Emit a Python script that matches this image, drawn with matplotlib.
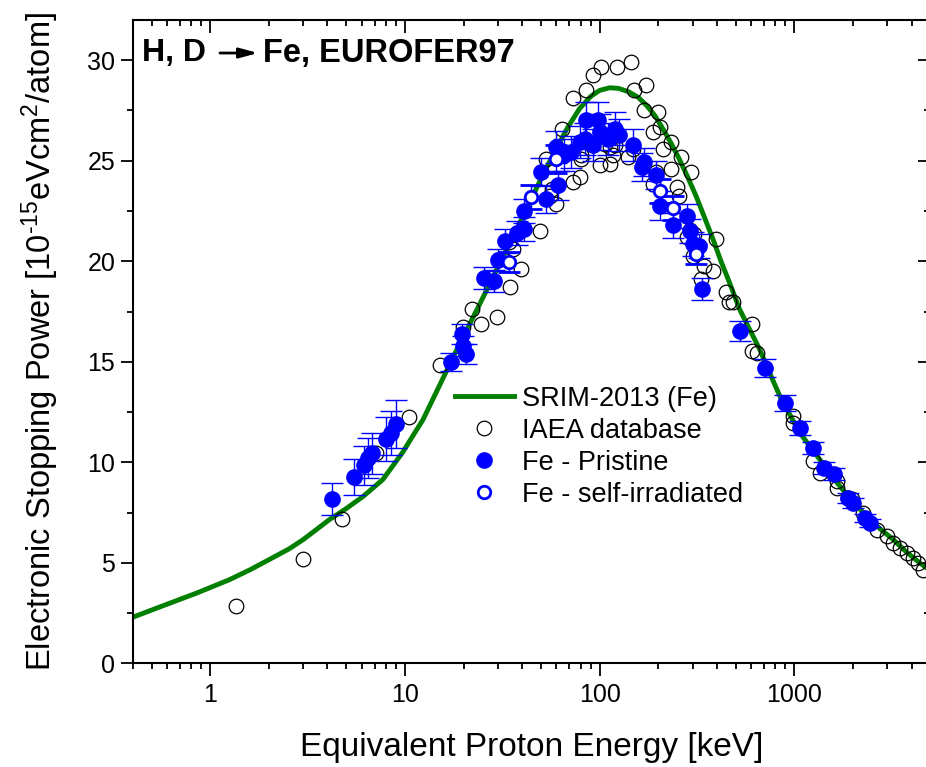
import numpy as np
import matplotlib
matplotlib.use('Agg')
import matplotlib.pyplot as plt
from matplotlib.lines import Line2D

plt.rcParams['font.family'] = ['Liberation Sans', 'DejaVu Sans']
plt.rcParams['mathtext.fontset'] = 'custom'
plt.rcParams['mathtext.rm'] = 'Liberation Sans'
plt.rcParams['mathtext.it'] = 'Liberation Sans:italic'
plt.rcParams['mathtext.bf'] = 'Liberation Sans:bold'

# SRIM-2013 curve
srim_E = [0.4, 0.55, 0.85, 1.25, 1.6, 2.0, 2.55, 3.0, 4.1, 5.0, 6.1, 7.7, 9.7, 12.4, 15.6,
          19.0, 24.2, 30.6, 38.7, 47.2, 54.0, 60.0, 68.0, 79.0, 90.0, 100, 112.6,
          125, 141, 158, 174, 192, 211, 232, 256, 283, 312, 345, 382, 420, 464,
          524, 590, 665, 750, 842, 950, 1067, 1200, 1351, 1520, 1713, 2000, 2350,
          2750, 3222, 3750, 4416, 5000]
srim_S = [2.29, 2.8, 3.49, 4.15, 4.65, 5.15, 5.7, 6.15, 7.15, 7.7, 8.3, 9.14, 10.47, 12.13, 14.13,
          15.85, 17.86, 19.87, 21.86, 23.6, 24.75, 25.6, 26.6, 27.6, 28.2, 28.5, 28.63,
          28.6, 28.43, 28.15, 27.76, 27.25, 26.6, 25.9, 25.1, 24.2, 23.27, 22.2, 21.1, 20.0, 18.95,
          17.6, 16.6, 15.6, 14.4, 13.3, 12.35, 11.47, 10.8, 10.14, 9.45, 8.81, 8.05, 7.31,
          6.7, 6.15, 5.55, 4.99, 4.6]

# IAEA database
iaea_E = [1.36, 2.98, 4.73, 7.11, 10.46, 15.2, 19.8, 24.5, 29.8, 22.0, 34.8, 39.6,
          35.8, 34.2, 49.7, 59.9, 55.3, 57.0, 72.9, 78.9, 80.0, 80.4, 100, 112.6,
          116.9, 112.6, 119.4, 106.3, 140, 148.5, 72.9, 85.2, 92.2, 101.2, 122.6, 145.6,
          150.2, 173.7, 170, 199.3, 203.4, 188, 233.4, 210.7, 262.5, 233.4, 295.6, 248.7,
          195.3, 188, 256, 289.9, 279.5, 307, 301, 343, 382, 330, 398, 448, 464,
          53, 64.3, 485, 603, 640, 603, 986, 986, 1250, 1351, 1650, 1650, 1892, 1971,
          2258, 2646, 3000, 3222, 3490, 3780, 4085, 4325, 4570]
iaea_S = [2.86, 5.2, 7.2, 10.47, 12.27, 14.83, 16.74, 16.86, 17.22, 17.62, 18.7, 19.6,
          20.6, 20.98, 21.5, 22.86, 23.27, 23.6, 23.94, 24.19, 25.1, 25.27, 24.77, 24.85,
          25.27, 25.69, 25.77, 25.85, 25.19, 25.6, 28.1, 28.5, 29.26, 29.68, 29.68, 29.93,
          28.51, 28.76, 27.51, 27.43, 26.68, 26.43, 25.93, 25.6, 25.19, 24.6, 24.44, 23.69,
          24.44, 23.86, 23.27, 21.53, 21.2, 21.36, 20.28, 19.78, 19.53, 19.12, 21.1, 18.45, 17.95,
          25.1, 26.6, 17.96, 16.87, 15.46, 15.54, 12.3, 11.97, 10.05, 9.48, 9.06, 8.73, 8.23, 8.15,
          7.48, 6.65, 6.31, 5.98, 5.74, 5.49, 5.24, 4.99, 4.65]

# Fe - Pristine
pri_E = [4.2, 5.5, 6.19, 6.5, 6.74, 8.0, 8.5, 9.0,
         17.3, 19.8, 19.7, 20.6, 25.4, 28.6, 29.9, 32.8, 37.5, 41.1, 41.1,
         50.0, 53.1, 61.1, 60.0, 66.0, 71.2, 78.9, 83.9, 85.2, 98.0, 100, 92.2,
         110, 119.4, 126, 148.5, 170, 166, 195, 203.4, 238, 290, 301, 325, 337, 279.5,
         524, 708, 894, 1067, 1248, 1416, 1600, 1892, 1990, 2300, 2450]
pri_S = [8.18, 9.26, 9.84, 10.22, 10.44, 11.14, 11.47, 11.89,
         14.99, 15.79, 16.37, 15.38, 19.17, 19.03, 20.08, 21.0, 21.4, 21.6, 22.5,
         24.44, 23.1, 23.77, 25.69, 25.27, 25.44, 25.93, 26.1, 27.01, 27.01, 26.43, 25.77,
         26.1, 26.6, 26.26, 25.77, 24.94, 24.69, 24.27, 22.77, 21.78, 21.5, 20.86, 20.78, 18.62, 22.27,
         16.54, 14.71, 12.97, 11.72, 10.72, 9.73, 9.44, 8.23, 7.98, 7.23, 6.98]
pri_err = [0.8, 0.9, 0.95, 1.0, 1.0, 1.1, 1.1, 1.2,
           0.45, 0.5, 0.5, 0.5, 0.55, 0.55, 0.55, 0.6, 0.6, 0.6, 0.6,
           0.7, 0.7, 0.7, 0.8, 0.8, 0.8, 0.8, 0.8, 0.9, 0.9, 0.9, 0.8,
           0.8, 0.8, 0.8, 0.8, 0.7, 0.7, 0.7, 0.7, 0.6, 0.6, 0.6, 0.6, 0.55, 0.6,
           0.5, 0.45, 0.4, 0.35, 0.3, 0.3, 0.3, 0.25, 0.25, 0.2, 0.2]

# Fe - self-irradiated
irr_E = [34.2, 44.2, 60.0, 203.4, 238, 311]
irr_S = [19.98, 23.2, 25.1, 23.5, 22.66, 20.35]
irr_err = [0.5, 0.6, 0.7, 0.6, 0.6, 0.5]

blue = '#0000ff'
green = '#007f00'

fig = plt.figure(figsize=(9.26, 7.67), dpi=100)
ax = fig.add_axes([0.1433, 0.1352, 0.8615, 0.8387])

ax.plot(srim_E, srim_S, color=green, lw=3.5, zorder=2)
ax.plot(iaea_E, iaea_S, 'o', ms=10.5, mfc='none', mec='black', mew=0.9, zorder=3)
ax.errorbar(pri_E, pri_S, yerr=pri_err, fmt='o', ms=11, color=blue,
            ecolor=blue, elinewidth=1.0, capsize=8, capthick=1.0, zorder=4)
ax.errorbar(irr_E, irr_S, yerr=irr_err, fmt='o', ms=9, mfc='white', mec=blue,
            mew=2.0, ecolor=blue, elinewidth=1.0, capsize=8, capthick=1.0, zorder=5)

ax.set_xscale('log')
ax.set_xlim(0.4, 5000)
ax.set_ylim(0, 32)
ax.set_yticks([0, 5, 10, 15, 20, 25, 30])
ax.set_yticks(np.arange(2.5, 32, 5), minor=True)
ax.set_xticks([1, 10, 100, 1000])
ax.set_xticklabels(['1', '10', '100', '1000'])

for s in ax.spines.values():
    s.set_linewidth(1.5)
ax.tick_params(which='both', labelsize=18, width=1.3, top=True, right=True)
ax.tick_params(which='major', length=9)
ax.tick_params(which='minor', length=4.5)
ax.tick_params(axis='x', which='both', direction='out', pad=5)
ax.tick_params(axis='y', which='both', direction='out')
# mirror ticks on top/right point inward
for t in ax.xaxis.get_major_ticks() + ax.xaxis.get_minor_ticks():
    t.tick2line.set_marker(3)
for t in ax.yaxis.get_major_ticks() + ax.yaxis.get_minor_ticks():
    t.tick2line.set_marker(0)

ax.set_xlabel('Equivalent Proton Energy [keV]', fontsize=24, labelpad=18)
ax.set_ylabel(r'Electronic Stopping Power [10$^{\text{-15}}$eVcm$^2$/atom]',
              fontsize=23.5, labelpad=19)

# title text with arrow
ax.text(0.0113, 0.9487, 'H, D', transform=ax.transAxes, fontsize=23,
        fontweight='bold', va='center', ha='left')
ax.annotate('', xy=(0.157, 0.9487), xytext=(0.1094, 0.9487),
            xycoords='axes fraction', textcoords='axes fraction',
            arrowprops=dict(arrowstyle='-|>,head_length=0.55,head_width=0.15',
                            lw=2, color='black', mutation_scale=20,
                            shrinkA=0, shrinkB=0))
ax.text(0.1633, 0.9487, 'Fe, EUROFER97', transform=ax.transAxes, fontsize=23.5,
        fontweight='bold', va='center', ha='left')

handles = [
    Line2D([], [], color=green, lw=3.5),
    Line2D([], [], ls='none', marker='o', ms=10.5, mfc='none', mec='black', mew=0.9),
    Line2D([], [], ls='none', marker='o', ms=11, mfc=blue, mec=blue),
    Line2D([], [], ls='none', marker='o', ms=9, mfc='white', mec=blue, mew=2.0),
]
labels = ['SRIM-2013 (Fe)', 'IAEA database', 'Fe - Pristine', 'Fe - self-irradiated']
ax.legend(handles, labels, loc='upper left', bbox_to_anchor=(0.39, 0.448),
          frameon=False, fontsize=19.5, handlelength=2.2, handletextpad=0.3,
          labelspacing=0.22, borderaxespad=0)

fig.savefig('out.png', dpi=100)
